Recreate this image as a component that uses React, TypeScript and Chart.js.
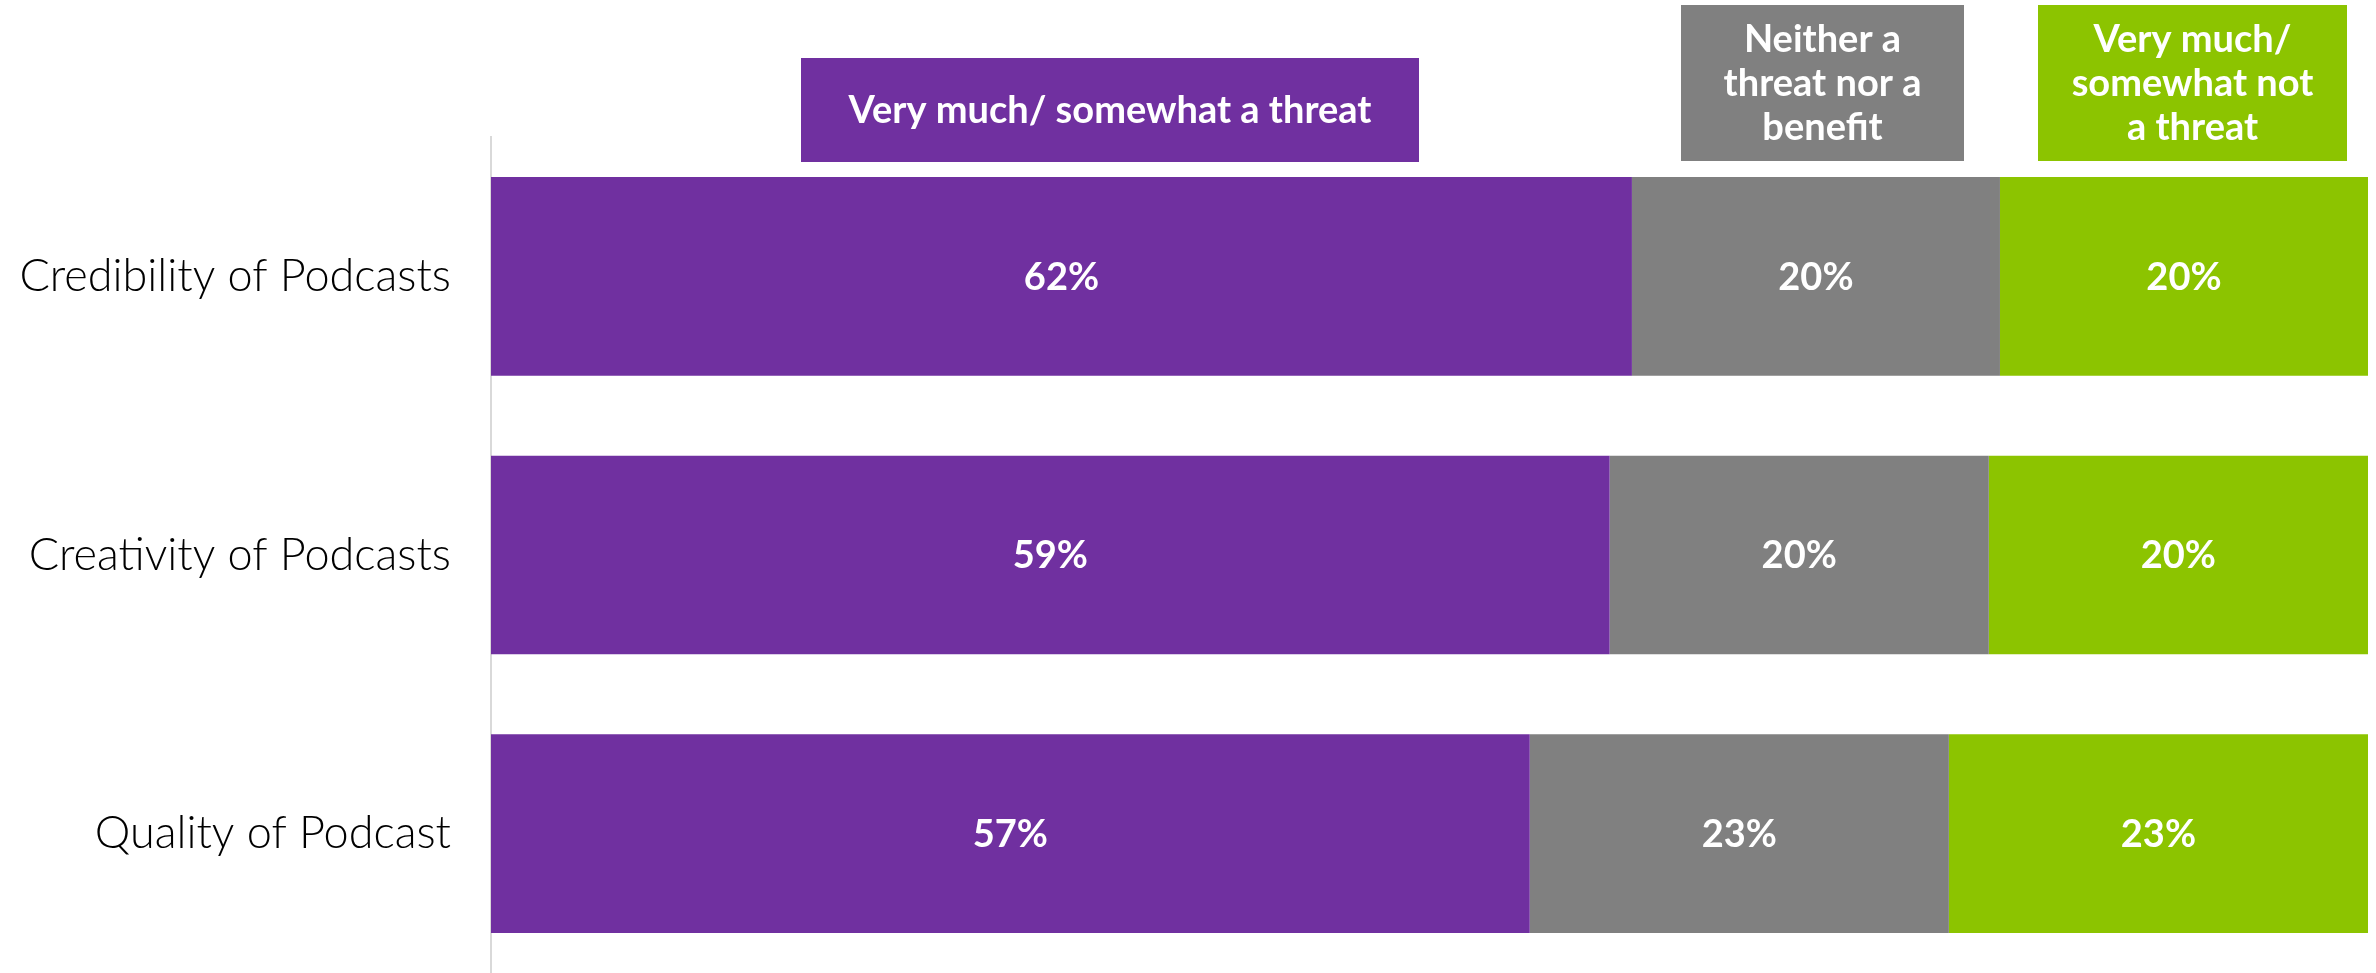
import React, { useEffect, useRef } from "react";
import { Chart, registerables } from "chart.js";
Chart.register(...registerables);

const categories = ["Credibility of Podcasts", "Creativity of Podcasts", "Quality of Podcast"];
const seriesNames = ["Very much/ somewhat a threat", "Neither a threat nor a benefit", "Very much/ somewhat not a threat"];
const threatValues = [62, 59, 57];
const neitherValues = [20, 20, 23];
const notThreatValues = [20, 20, 23];
const legendLines = [["Very much/ somewhat a threat"], ["Neither a", "threat nor a", "benefit"], ["Very much/", "somewhat not", "a threat"]];
const seriesColors = ["#7030A0", "#808080", "#8CC400"];

// legend box geometry (offsets from chart area left, canvas y)
const legendBoxes = [
  { dx: 310, top: 58, w: 618, h: 104 },
  { dx: 1190, top: 5, w: 283, h: 156 },
  { dx: 1547, top: 5, w: 309, h: 156 },
];

const W = 2376;
const H = 973;

const rawSeries = [threatValues, neitherValues, notThreatValues];
const totals = categories.map((_, j) => rawSeries.reduce((s, arr) => s + arr[j], 0));
const shareSeries = rawSeries.map((arr) => arr.map((v, j) => (v / totals[j]) * 100));

const valueLabels = {
  id: "valueLabels",
  afterDatasetsDraw(chart: any) {
    const ctx = chart.ctx;
    ctx.save();
    ctx.font = "bold 38px Lato";
    ctx.fillStyle = "#ffffff";
    ctx.textAlign = "center";
    ctx.textBaseline = "middle";
    chart.data.datasets.forEach((_: any, i: number) => {
      const meta = chart.getDatasetMeta(i);
      meta.data.forEach((el: any, j: number) => {
        const p = el.getProps(["x", "base", "y"], true);
        ctx.fillText(rawSeries[i][j] + "%", (p.x + p.base) / 2, p.y + 1);
      });
    });
    ctx.restore();
  },
};

const legendPlugin = {
  id: "boxLegend",
  afterDraw(chart: any) {
    const ctx = chart.ctx;
    const ca = chart.chartArea;
    ctx.save();
    ctx.font = "bold 38px Lato";
    ctx.textAlign = "center";
    ctx.textBaseline = "middle";
    legendBoxes.forEach((b, i) => {
      const x = ca.left + b.dx;
      ctx.fillStyle = seriesColors[i];
      ctx.fillRect(x, b.top, b.w, b.h);
      ctx.fillStyle = "#ffffff";
      const lines = legendLines[i];
      const lh = 44;
      const cy = b.top + b.h / 2;
      lines.forEach((ln, k) => {
        ctx.fillText(ln, x + b.w / 2, cy + (k - (lines.length - 1) / 2) * lh + 1);
      });
    });
    ctx.restore();
  },
};

export default function App() {
  const ref = useRef<HTMLCanvasElement | null>(null);
  useEffect(() => {
    document.body.style.margin = "0";
    document.body.style.overflow = "hidden";
    if (!ref.current) return;
    const chart = new Chart(ref.current, {
      type: "bar",
      data: {
        labels: categories,
        datasets: shareSeries.map((d, i) => ({
          label: seriesNames[i],
          data: d,
          backgroundColor: seriesColors[i],
          borderWidth: 0,
          categoryPercentage: 1,
          barPercentage: 0.713,
        })),
      },
      options: {
        indexAxis: "y",
        animation: false,
        responsive: false,
        maintainAspectRatio: false,
        devicePixelRatio: 1,
        layout: { padding: { top: 137, right: 8, bottom: 0, left: 0 } },
        plugins: { legend: { display: false }, tooltip: { enabled: false }, title: { display: false } },
        scales: {
          x: { stacked: true, min: 0, max: 100, display: false },
          y: {
            stacked: true,
            grid: { display: false, drawTicks: false },
            border: { display: true, color: "#d9d9d9", width: 2 },
            ticks: { color: "#000000", padding: 40, font: { family: "Lato", size: 45, weight: 300 } },
            afterFit: (s: any) => {
              s.width = 491;
              s.paddingTop = 0;
              s.paddingBottom = 0;
            },
          },
        },
      } as any,
      plugins: [valueLabels, legendPlugin],
    });
    return () => chart.destroy();
  }, []);
  return (
    <div style={{ position: "relative", width: W + "px", height: H + "px" }}>
      <canvas ref={ref} width={W} height={H} style={{ display: "block", width: W + "px", height: H + "px" }} />
    </div>
  );
}
